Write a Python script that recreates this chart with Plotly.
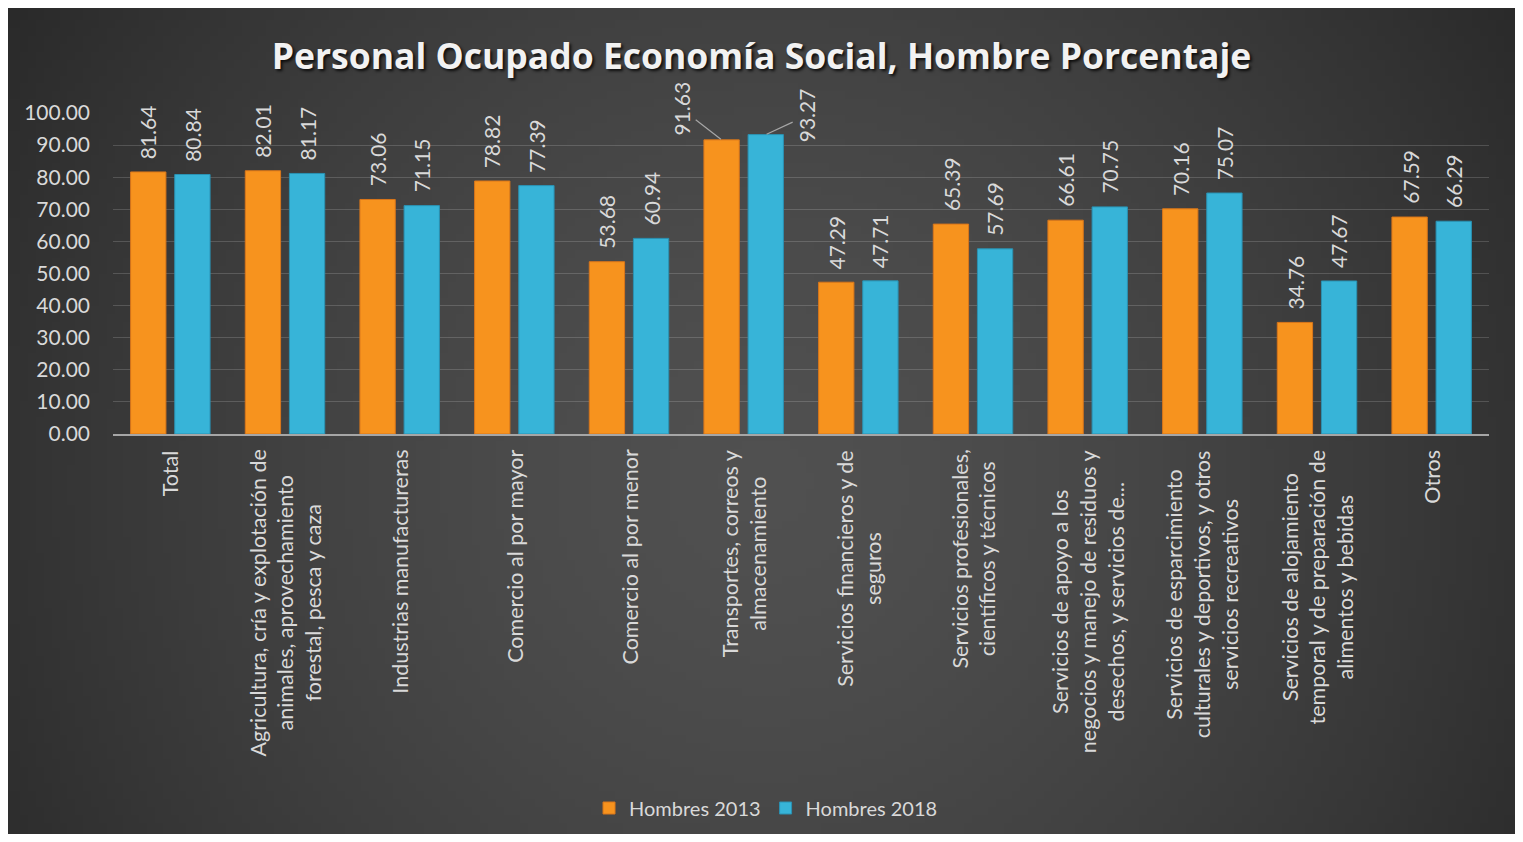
import base64
import struct
import zlib

import plotly.graph_objects as go

categorias = [
    "Total",
    "Agricultura, cría y explotación de<br>animales, aprovechamiento<br>forestal, pesca y caza",
    "Industrias manufactureras",
    "Comercio al por mayor",
    "Comercio al por menor",
    "Transportes, correos y<br>almacenamiento",
    "Servicios financieros y de<br>seguros",
    "Servicios profesionales,<br>científicos y técnicos",
    "Servicios de apoyo a los<br>negocios y manejo de residuos y<br>desechos, y servicios de...",
    "Servicios de esparcimiento<br>culturales y deportivos, y otros<br>servicios recreativos",
    "Servicios de alojamiento<br>temporal y de preparación de<br>alimentos y bebidas",
    "Otros",
]
hombres_2013 = [81.64, 82.01, 73.06, 78.82, 53.68, 91.63, 47.29, 65.39, 66.61, 70.16, 34.76, 67.59]
hombres_2018 = [80.84, 81.17, 71.15, 77.39, 60.94, 93.27, 47.71, 57.69, 70.75, 75.07, 47.67, 66.29]
yticks = [0, 10, 20, 30, 40, 50, 60, 70, 80, 90, 100]

W, H = 1507, 826
ML, MR, MT, MB = 105, 26, 105, 400
FONT = "Lato"
GRIS = "#d9d9d9"


def fondo_png(w=190, h=104):
    # radial gradient, lighter in the middle, dark at the edges
    cx, cy = w * 0.5, h * 0.57
    rmax = ((w / 2) ** 2 + (h * 0.57) ** 2) ** 0.5
    raw = b""
    for j in range(h):
        row = bytearray([0])
        for i in range(w):
            r = min(1.0, (((i - cx) ** 2 + (j - cy) ** 2) ** 0.5) / rmax)
            v = int(round(80 - 38 * r ** 1.5))
            row.append(v)
        raw += bytes(row)

    def chunk(tag, data):
        c = struct.pack(">I", len(data)) + tag + data
        return c + struct.pack(">I", zlib.crc32(tag + data) & 0xFFFFFFFF)

    png = b"\x89PNG\r\n\x1a\n"
    png += chunk(b"IHDR", struct.pack(">IIBBBBB", w, h, 8, 0, 0, 0, 0))
    png += chunk(b"IDAT", zlib.compress(raw, 9))
    png += chunk(b"IEND", b"")
    return "data:image/png;base64," + base64.b64encode(png).decode()


fig = go.Figure()
fig.add_trace(go.Bar(
    x=categorias, y=hombres_2013, name="Hombres 2013",
    marker=dict(color="#F7931E", line=dict(color="#D9761A", width=1)),
))
fig.add_trace(go.Bar(
    x=categorias, y=hombres_2018, name="Hombres 2018",
    marker=dict(color="#37B4D8", line=dict(color="#2A92B3", width=1)),
))

# value labels
desplazadas = {(0, 5): (-40, -31), (1, 5): (41, -19)}
for k, serie in enumerate([hombres_2013, hombres_2018]):
    dx = -22 if k == 0 else 22
    for i, v in enumerate(serie):
        if (k, i) in desplazadas:
            ax, ay = desplazadas[(k, i)]
            fig.add_annotation(
                x=categorias[i], y=v, xshift=dx, text=f"{v:.2f}", textangle=-90,
                showarrow=True, arrowhead=0, arrowwidth=1.2, arrowcolor="#a6a6a6",
                ax=ax, ay=ay, standoff=1,
                font=dict(family=FONT, size=21, color=GRIS),
            )
        else:
            fig.add_annotation(
                x=categorias[i], y=v, xshift=dx, yshift=11, text=f"{v:.2f}",
                textangle=-90, showarrow=False, yanchor="bottom",
                font=dict(family=FONT, size=21, color=GRIS),
            )

# category labels
for c in categorias:
    fig.add_annotation(
        x=c, y=0, yshift=-14, text=c, textangle=-90, showarrow=False,
        yanchor="top", xanchor="center", align="center",
        font=dict(family=FONT, size=21.5, color=GRIS),
    )

pw, ph = W - ML - MR, H - MT - MB
fig.add_layout_image(
    source=fondo_png(), xref="paper", yref="paper",
    x=-ML / pw, y=1 + MT / ph, sizex=W / pw, sizey=H / ph,
    xanchor="left", yanchor="top", sizing="stretch", layer="below",
)

fig.update_layout(
    width=W, height=H,
    margin=dict(l=ML, r=MR, t=MT, b=MB),
    paper_bgcolor="#2b2b2b",
    plot_bgcolor="rgba(0,0,0,0)",
    barmode="group", bargap=0.23, bargroupgap=0.2,
    title=dict(
        text="<b>Personal Ocupado Economía Social, Hombre Porcentaje</b>",
        x=0.5, xanchor="center", y=1 - 49 / H, yanchor="middle",
        font=dict(family="Open Sans", size=35.5, color="#f2f2f2",
                  shadow="2px 2px 3px rgba(0,0,0,0.8)"),
    ),
    legend=dict(
        orientation="h", xref="container", x=0.503, xanchor="center",
        yref="container", y=26 / H, yanchor="middle",
        font=dict(family=FONT, size=20, color=GRIS),
        bgcolor="rgba(0,0,0,0)",
    ),
    showlegend=True,
)
fig.update_xaxes(
    showticklabels=False, showgrid=False, ticks="",
    showline=True, linecolor="#a6a6a6", linewidth=2,
)
fig.update_yaxes(
    range=[0, 100], tickvals=yticks, tickformat=".2f",
    showgrid=True, gridcolor="rgba(255,255,255,0.16)", gridwidth=1,
    zeroline=False, showline=False, ticks="",
    ticklabelstandoff=22,
    tickfont=dict(family=FONT, size=21, color=GRIS),
)

fig.write_html("out.html")
